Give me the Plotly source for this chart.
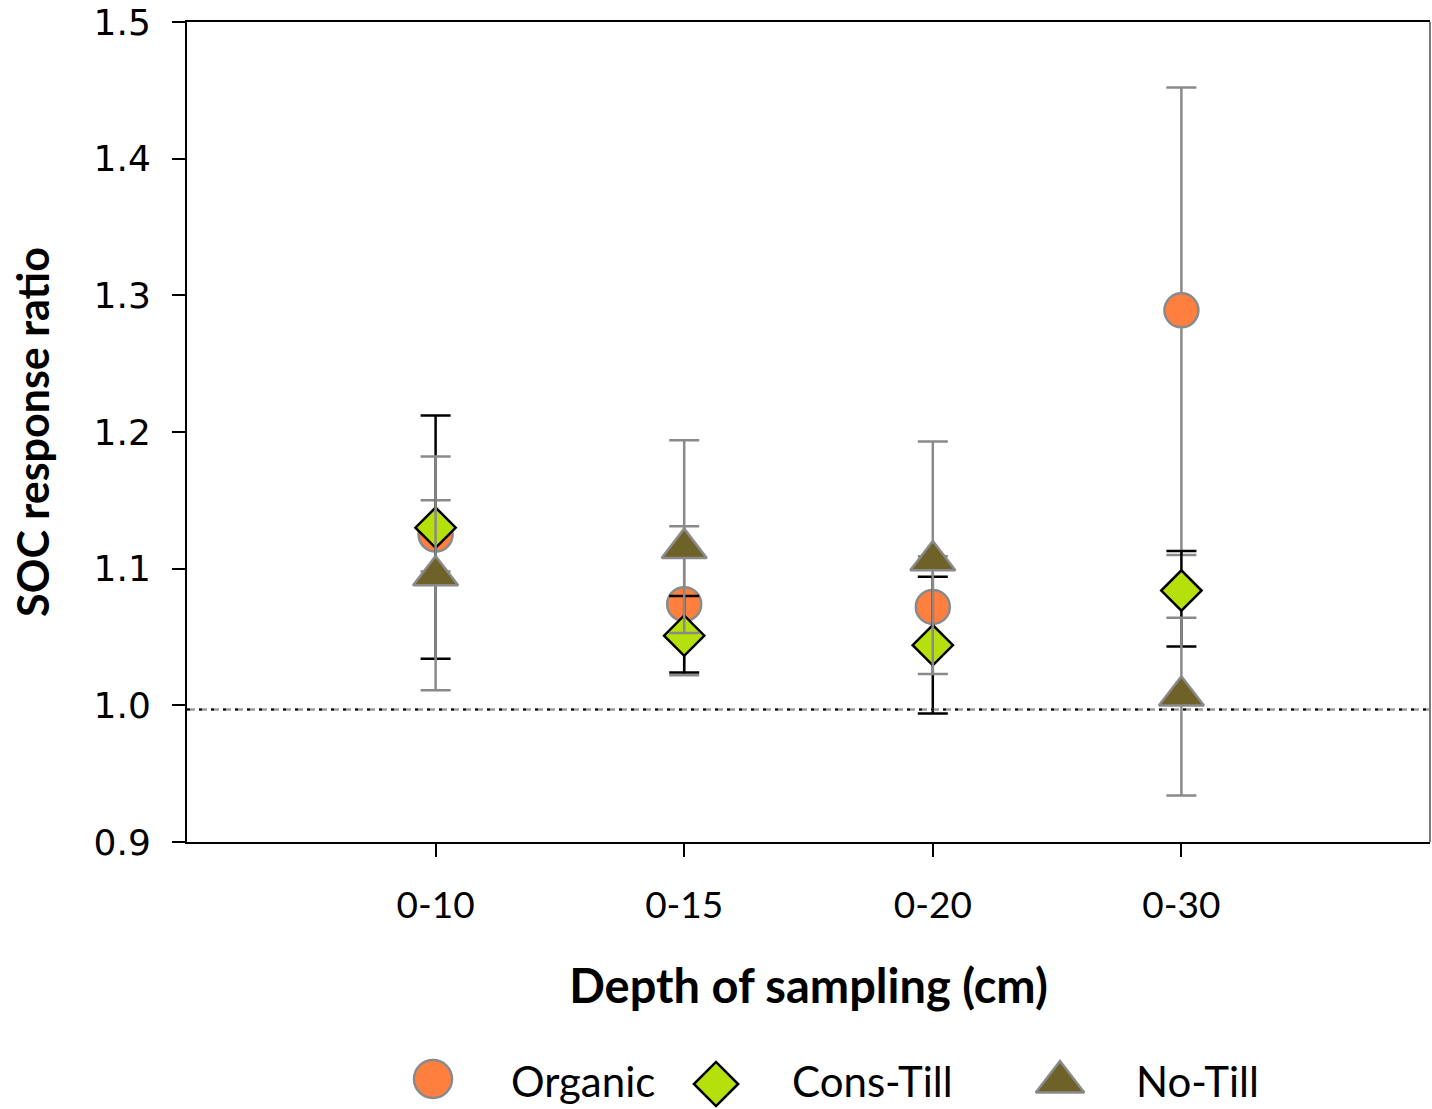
import plotly.graph_objects as go

# Sampling depths (cm)
depths = ["0-10", "0-15", "0-20", "0-30"]

# SOC response ratios with lower / upper confidence limits
organic = [1.125, 1.074, 1.072, 1.289]
organic_lo = [1.098, 1.022, 1.048, 1.110]
organic_hi = [1.150, 1.131, 1.109, 1.452]

cons_till = [1.130, 1.051, 1.044, 1.084]
cons_till_lo = [1.034, 1.024, 0.994, 1.043]
cons_till_hi = [1.212, 1.080, 1.094, 1.113]

no_till = [1.095, 1.115, 1.106, 1.007]
no_till_lo = [1.011, 1.053, 1.023, 0.934]
no_till_hi = [1.182, 1.194, 1.193, 1.064]

y_ticks = [0.9, 1.0, 1.1, 1.2, 1.3, 1.4, 1.5]
reference_ratio = 0.997

GRAY = "#8a8a8a"
TICK_FONT = "DejaVu Sans"
TEXT_FONT = "Lato"

series = [
    dict(name="Organic", y=organic, lo=organic_lo, hi=organic_hi,
         symbol="circle", size=34, key_size=38, fill="#FF7F3F", edge=GRAY, bar=GRAY),
    dict(name="Cons-Till", y=cons_till, lo=cons_till_lo, hi=cons_till_hi,
         symbol="diamond", size=31, key_size=34, fill="#B6E00C", edge="#000000", bar="#000000"),
    dict(name="No-Till", y=no_till, lo=no_till_lo, hi=no_till_hi,
         symbol="triangle-up", size=39, key_size=42, fill="#6E6229", edge=GRAY, bar=GRAY),
]

fig = go.Figure()

# plot area in pixels (figure is 1432 x 1109)
W, H = 1432, 1109
left, right, top = 187, 2, 22
axis_bottom_px = 842
plot_h = H - top
y_domain_lo = (H - axis_bottom_px) / plot_h

for s in series:
    fig.add_trace(go.Scatter(
        x=depths, y=s["y"], mode="markers", name=s["name"], showlegend=False,
        marker=dict(symbol=s["symbol"], size=s["size"], color=s["fill"],
                    line=dict(color=s["edge"], width=2.5)),
        error_y=dict(type="data", symmetric=False,
                     array=[h - v for h, v in zip(s["hi"], s["y"])],
                     arrayminus=[v - l for v, l in zip(s["y"], s["lo"])],
                     color=s["bar"], thickness=2.5, width=15),
        xaxis="x", yaxis="y",
    ))

# legend keys drawn in a small helper axis below the chart
# (helper axis units are pixels from the left edge / up from the bottom edge)
legend_x = [433, 716, 1060]
legend_key_y = [30, 25, 27]
legend_text_x = [509, 790, 1134]
legend_text_y = 28
for s, lx, ly, tx in zip(series, legend_x, legend_key_y, legend_text_x):
    fig.add_trace(go.Scatter(
        x=[lx], y=[ly], mode="markers", showlegend=False, hoverinfo="skip",
        marker=dict(symbol=s["symbol"], size=s["key_size"], color=s["fill"],
                    line=dict(color=s["edge"], width=2.5)),
        xaxis="x2", yaxis="y2",
    ))
    fig.add_annotation(x=tx, y=legend_text_y, xref="x2", yref="y2", text=s["name"],
                       showarrow=False, xanchor="left", yanchor="middle",
                       font=dict(family=TEXT_FONT, size=42, color="#000000"))

# dashed reference line with dotted overlay
fig.add_shape(type="line", xref="paper", yref="y", x0=0, x1=1,
              y0=reference_ratio, y1=reference_ratio,
              line=dict(color="#9c9c9c", width=2.5, dash="8px,4px"))
fig.add_shape(type="line", xref="paper", yref="y", x0=0, x1=1,
              y0=reference_ratio, y1=reference_ratio,
              line=dict(color="#000000", width=2, dash="3px,9px"))
# right frame edge
fig.add_shape(type="line", xref="paper", yref="y", x0=1, x1=1, y0=0.9, y1=1.5,
              line=dict(color="#7a7a7a", width=2))

fig.update_layout(
    width=W, height=H,
    margin=dict(l=left, r=right, t=top, b=0),
    paper_bgcolor="white", plot_bgcolor="white",
    showlegend=False,
    xaxis=dict(
        type="category", categoryorder="array", categoryarray=depths,
        range=[-1, 4], domain=[0, 1], anchor="y",
        showgrid=False, zeroline=False,
        showline=True, linecolor="#000000", linewidth=2, mirror=True,
        ticks="outside", ticklen=13, tickwidth=2, tickcolor="#000000",
        ticklabelstandoff=17,
        tickfont=dict(family=TEXT_FONT, size=37, color="#000000"),
        title=dict(text="<b>Depth of sampling (cm)</b>", standoff=45,
                   font=dict(family=TEXT_FONT, size=47, color="#000000")),
        automargin=False,
    ),
    yaxis=dict(
        range=[0.9, 1.5], domain=[y_domain_lo, 1], anchor="x",
        tickvals=y_ticks, ticktext=[f"{v:.1f}" for v in y_ticks],
        showgrid=False, zeroline=False,
        showline=True, linecolor="#000000", linewidth=2,
        ticks="outside", ticklen=13, tickwidth=2, tickcolor="#000000",
        ticklabelstandoff=14,
        tickfont=dict(family=TICK_FONT, size=36, color="#000000"),
        title=dict(text="<b>SOC response ratio</b>", standoff=30,
                   font=dict(family=TEXT_FONT, size=43, color="#000000")),
        automargin=False,
    ),
    xaxis2=dict(domain=[0, 1], anchor="y2", range=[left, W - right],
                visible=False, fixedrange=True),
    yaxis2=dict(domain=[0, y_domain_lo], anchor="x2", range=[0, H - axis_bottom_px],
                visible=False, fixedrange=True),
)

fig.write_html("out.html")
